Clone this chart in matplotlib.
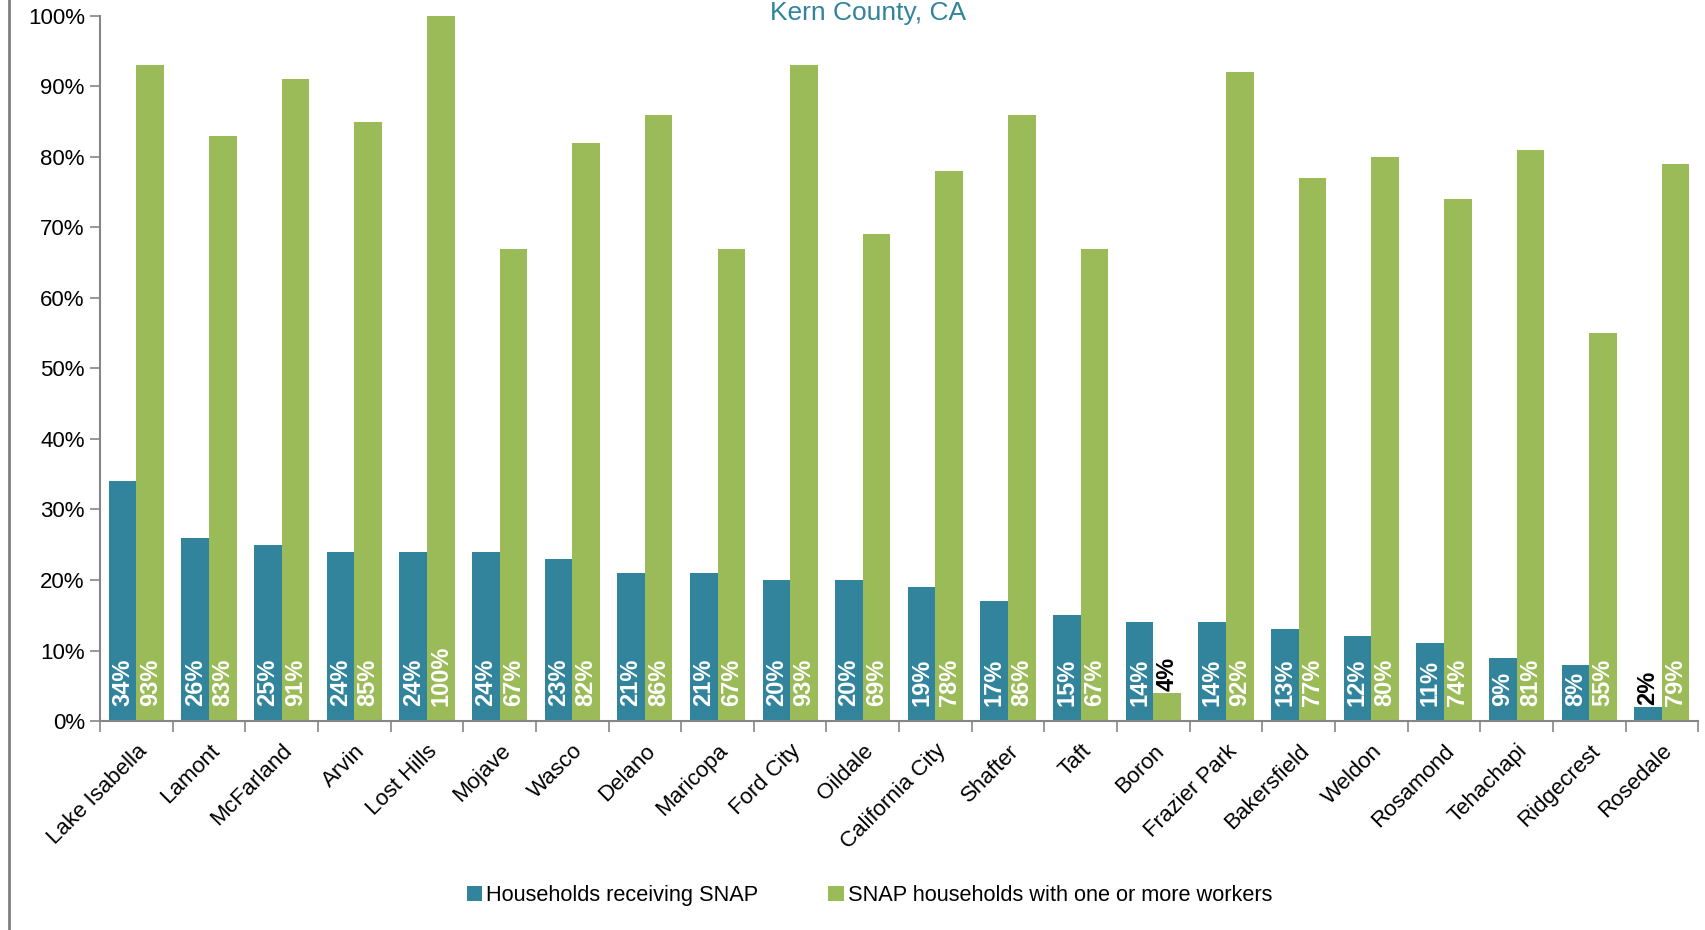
import numpy as np
import matplotlib.pyplot as plt
from matplotlib.lines import Line2D

plt.rcParams['font.family'] = ['Liberation Sans', 'DejaVu Sans']

# Datos
ciudades = ['Lake Isabella', 'Lamont', 'McFarland', 'Arvin', 'Lost Hills', 'Mojave',
            'Wasco', 'Delano', 'Maricopa', 'Ford City', 'Oildale', 'California City',
            'Shafter', 'Taft', 'Boron', 'Frazier Park', 'Bakersfield', 'Weldon',
            'Rosamond', 'Tehachapi', 'Ridgecrest', 'Rosedale']
snap = [34, 26, 25, 24, 24, 24, 23, 21, 21, 20, 20, 19, 17, 15, 14, 14, 13, 12, 11, 9, 8, 2]
trabajadores = [93, 83, 91, 85, 100, 67, 82, 86, 67, 93, 69, 78, 86, 67, 4, 92, 77, 80, 74, 81, 55, 79]
etiquetas = ['Households receiving SNAP', 'SNAP households with one or more workers']

azul = '#31849B'
verde = '#9BBB59'
gris = '#868686'

fig = plt.figure(figsize=(17.05, 9.30), dpi=100)
ax = fig.add_axes([0.0587, 0.2247, 0.9373, 0.7583])

x = np.arange(len(ciudades))
w = 0.38
b1 = ax.bar(x - w / 2, snap, width=w, color=azul, label=etiquetas[0])
b2 = ax.bar(x + w / 2, trabajadores, width=w, color=verde, label=etiquetas[1])

# Etiquetas de valores
for barras, vals in [(b1, snap), (b2, trabajadores)]:
    for rect, v in zip(barras, vals):
        cx = rect.get_x() + rect.get_width() / 2
        if v < 6:
            ax.text(cx, v + 0.3, f'{v}%', rotation=90, ha='center', va='bottom',
                    fontsize=17, fontweight='bold', color='black')
        else:
            ax.text(cx, 2.2, f'{v}%', rotation=90, ha='center', va='bottom',
                    fontsize=17, fontweight='bold', color='white')

ax.set_xlim(-0.5, len(ciudades) - 0.5)
ax.set_ylim(0, 100)
ax.set_yticks(np.arange(0, 101, 10))
ax.set_yticklabels([f'{t}%' for t in range(0, 101, 10)], fontsize=16)
ax.set_xticks(x)
ax.set_xticklabels(ciudades, rotation=45, ha='right', rotation_mode='anchor', fontsize=16)
ax.set_xticks(np.arange(-0.5, len(ciudades), 1), minor=True)
ax.tick_params(axis='x', which='major', length=0, pad=14)
ax.tick_params(axis='x', which='minor', length=8, color=gris, width=1.2)
ax.tick_params(axis='y', length=7, color=gris, width=1.2, pad=4)

for s in ['top', 'right']:
    ax.spines[s].set_visible(False)
for s in ['left', 'bottom']:
    ax.spines[s].set_color(gris)
    ax.spines[s].set_linewidth(1.5)

fig.text(0.509, 0.999, 'Kern County, CA', ha='center', va='top', fontsize=19, color=azul)

fig.legend(handles=[b1, b2], loc='center', bbox_to_anchor=(0.51, 0.037), ncol=2,
           frameon=False, fontsize=15.7, handlelength=0.7, handleheight=0.7,
           handletextpad=0.2, columnspacing=3.2)

# Borde izquierdo
fig.add_artist(Line2D([0.0053, 0.0053], [0, 1], transform=fig.transFigure, color='#7f7f7f', lw=2))

plt.savefig('out.png', dpi=100)
